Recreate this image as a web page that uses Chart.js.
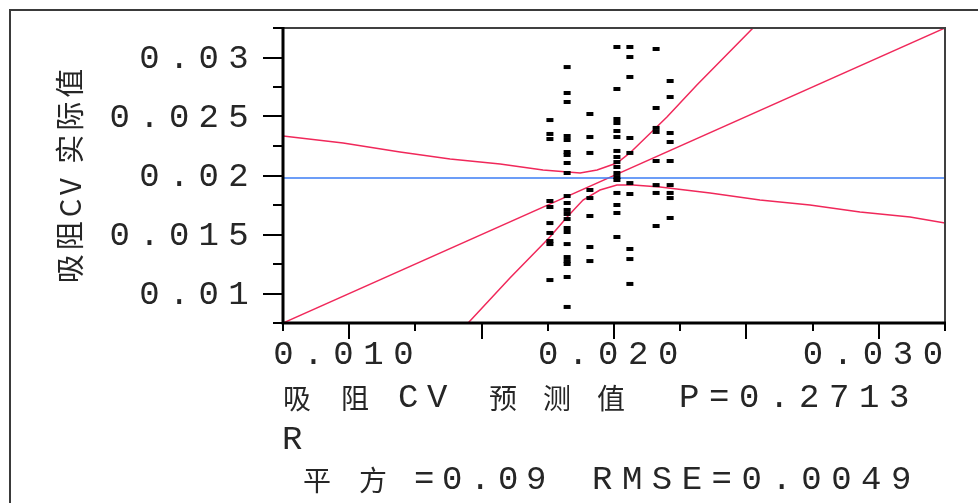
<!DOCTYPE html>
<html>
<head>
<meta charset="utf-8">
<script src="https://cdn.jsdelivr.net/npm/chart.js@4/dist/chart.umd.min.js"></script>
<style>
  html, body { margin: 0; padding: 0; background: #ffffff; }
  #wrap { width: 978px; height: 503px; position: relative; }
</style>
</head>
<body>
<div id="wrap"><canvas id="c" width="978" height="503"></canvas></div>
<script>
// ---- axis range and tick values (same range on both axes) ----
const axisMin = 0.0075;
const axisMax = 0.0325;
const majorTicks = [0.010, 0.015, 0.020, 0.025, 0.030];
const minorTicks = [0.0075, 0.0125, 0.0175, 0.0225, 0.0275, 0.0325];
const yTickValues = [0.01, 0.015, 0.02, 0.025, 0.03];
const yTickLabels = ['0.01', '0.015', '0.02', '0.025', '0.03'];
const xTickValues = [0.01, 0.02, 0.03];
const xTickLabels = ['0.010', '0.020', '0.030'];

// ---- predicted levels (x) and the actual values observed at each level (y) ----
const predictedLevels = [0.01758, 0.01823, 0.01909, 0.02011, 0.02060, 0.02159, 0.02212];
const actualAtLevel1 = [0.02470, 0.02352, 0.02309, 0.01784, 0.01733, 0.01597, 0.01513, 0.01445, 0.01419, 0.01114];
const actualAtLevel2 = [0.02919, 0.02699, 0.02623, 0.02335, 0.02301, 0.02199, 0.02174, 0.02106, 0.02021, 0.01826, 0.01767,
                        0.01708, 0.01674, 0.01631, 0.01555, 0.01521, 0.01419, 0.01309, 0.01275, 0.01250, 0.01140, 0.00886];
const actualAtLevel3 = [0.02521, 0.02326, 0.02191, 0.01877, 0.01809, 0.01657, 0.01394, 0.01275];
const actualAtLevel4 = [0.03089, 0.02733, 0.02479, 0.02445, 0.02377, 0.02326, 0.02208, 0.02157, 0.02114, 0.02072, 0.02021,
                        0.01987, 0.01962, 0.01852, 0.01750, 0.01682, 0.01479];
const actualAtLevel5 = [0.03089, 0.03004, 0.02835, 0.02318, 0.02191, 0.01936, 0.01843, 0.01377, 0.01292, 0.01081];
const actualAtLevel6 = [0.03072, 0.02572, 0.02403, 0.02369, 0.02123, 0.01919, 0.01852, 0.01572];
const actualAtLevel7 = [0.02801, 0.02665, 0.02360, 0.02284, 0.02123, 0.01919, 0.01852, 0.01809, 0.01640];

// ---- reference lines ----
const meanActual = 0.01979;
const fitX = [0.0075, 0.0325];
const fitY = [0.0075, 0.0325];

// ---- confidence curves ----
const upperX = [0.0075, 0.00977, 0.01192, 0.01381, 0.01570, 0.01732, 0.01872, 0.01936, 0.02011, 0.02060, 0.02200, 0.02313, 0.02525];
const upperY = [0.02335, 0.02275, 0.02199, 0.02140, 0.02098, 0.02047, 0.02021, 0.02047, 0.02106, 0.02191, 0.02496, 0.02767, 0.0325];
const lowerX = [0.01449, 0.01607, 0.01758, 0.01823, 0.01883, 0.01947, 0.02011, 0.02072, 0.02174, 0.02363, 0.02551, 0.02740,
                0.02929, 0.03118, 0.0325];
const lowerY = [0.0075, 0.01131, 0.01479, 0.01648, 0.01792, 0.01877, 0.01920, 0.01920, 0.01903, 0.01852, 0.01792, 0.01750,
                0.01691, 0.01648, 0.01598];

// ---- texts ----
const yTitle = '吸阻CV 实际值';
const statsName = ['吸阻CV', '预测值'];
const statsP = 'P=0.2713';
const statsR = 'R';
const statsRsq = '平方=0.09';
const statsRmse = 'RMSE=0.0049';

const actualGroups = [actualAtLevel1, actualAtLevel2, actualAtLevel3, actualAtLevel4, actualAtLevel5, actualAtLevel6, actualAtLevel7];
const pointData = [];
actualGroups.forEach((vals, i) => vals.forEach(v => pointData.push({ x: predictedLevels[i], y: v })));
const zip = (xs, ys) => xs.map((x, i) => ({ x, y: ys[i] }));

const RED = '#f0285a';
const TEXT = '#262626';
const LATIN_FONT = "34px 'Liberation Mono'";
const CJK_FONT = "28px 'Noto Sans CJK SC'";

const isWide = ch => /[\u2e80-\u9fff\uff00-\uffef]/.test(ch);

// Draws text on a fixed character grid: narrow glyphs take one cell, CJK glyphs two.
function drawCells(ctx, text, x, y, pitch, align) {
  const chars = Array.from(text);
  const total = chars.reduce((s, ch) => s + (isWide(ch) ? 2 : 1), 0) * pitch;
  let cx = align === 'right' ? x - total : align === 'center' ? x - total / 2 : x;
  ctx.textBaseline = 'middle';
  ctx.textAlign = 'left';
  for (const ch of chars) {
    const wide = isWide(ch);
    ctx.font = wide ? CJK_FONT : LATIN_FONT;
    if (ch !== ' ') ctx.fillText(ch, cx - (wide ? 0 : 1), y);
    cx += (wide ? 2 : 1) * pitch;
  }
}

const framePlugin = {
  id: 'jmpFrame',
  afterDraw(chart) {
    const { ctx, chartArea: a, scales } = chart;
    const xs = scales.x, ys = scales.y;
    ctx.save();

    // outer report frame
    ctx.strokeStyle = '#3a3a3a';
    ctx.lineWidth = 2;
    ctx.beginPath();
    ctx.moveTo(10, 503); ctx.lineTo(10, 10); ctx.lineTo(978, 10);
    ctx.stroke();

    // plot frame: top and right
    ctx.strokeStyle = '#404040';
    ctx.lineWidth = 2;
    ctx.beginPath();
    ctx.moveTo(a.left, a.top); ctx.lineTo(a.right, a.top); ctx.lineTo(a.right, a.bottom);
    ctx.stroke();

    // axis lines: left and bottom
    ctx.strokeStyle = '#000';
    ctx.lineWidth = 3;
    ctx.beginPath();
    ctx.moveTo(a.left, a.top - 1); ctx.lineTo(a.left, a.bottom); ctx.lineTo(a.right + 1, a.bottom);
    ctx.stroke();

    // tick marks
    ctx.lineWidth = 2;
    ctx.beginPath();
    majorTicks.forEach(v => {
      const py = Math.round(ys.getPixelForValue(v));
      ctx.moveTo(a.left - 20, py); ctx.lineTo(a.left, py);
      const px = Math.round(xs.getPixelForValue(v));
      ctx.moveTo(px, a.bottom); ctx.lineTo(px, a.bottom + 16);
    });
    minorTicks.forEach(v => {
      const py = Math.round(ys.getPixelForValue(v));
      ctx.moveTo(a.left - 10, py); ctx.lineTo(a.left, py);
      const px = Math.round(xs.getPixelForValue(v));
      ctx.moveTo(px, a.bottom); ctx.lineTo(px, a.bottom + 8);
    });
    ctx.stroke();

    ctx.fillStyle = TEXT;
    // y tick labels
    yTickValues.forEach((v, i) => drawCells(ctx, yTickLabels[i], a.left - 24, ys.getPixelForValue(v) + 1, 29.7, 'right'));
    // x tick labels
    xTickValues.forEach((v, i) => drawCells(ctx, xTickLabels[i], xs.getPixelForValue(v), a.bottom + 32, 30, 'center'));

    // y axis title
    ctx.save();
    ctx.translate(70, 174);
    ctx.rotate(-Math.PI / 2);
    ctx.font = "29px 'Noto Sans CJK SC'";
    ctx.letterSpacing = '4px';
    ctx.textAlign = 'center';
    ctx.textBaseline = 'middle';
    ctx.fillText(yTitle, 0, 0);
    ctx.restore();

    // statistics lines under the x axis
    drawCells(ctx, statsName[0], 283, 398, 29, 'left');
    drawCells(ctx, statsName[1], 489, 398, 27, 'left');
    drawCells(ctx, statsP, 680, 398, 30, 'left');
    drawCells(ctx, statsR, 283, 440, 30, 'left');
    drawCells(ctx, statsRsq, 303, 480, 28, 'left');
    drawCells(ctx, statsRmse, 593, 480, 29.9, 'left');

    ctx.restore();
  }
};

new Chart(document.getElementById('c'), {
  type: 'scatter',
  data: {
    datasets: [
      {
        label: 'actual',
        data: pointData,
        pointStyle: 'line',
        pointRadius: 3.5,
        pointBorderWidth: 4,
        borderColor: '#000',
        backgroundColor: '#000',
        showLine: false
      },
      {
        label: 'mean',
        data: [{ x: axisMin, y: meanActual }, { x: axisMax, y: meanActual }],
        showLine: true, pointRadius: 0, borderColor: '#3b7cf5', borderWidth: 1.5
      },
      {
        label: 'fit',
        data: zip(fitX, fitY),
        showLine: true, pointRadius: 0, borderColor: RED, borderWidth: 1.5
      },
      {
        label: 'upper',
        data: zip(upperX, upperY),
        showLine: true, pointRadius: 0, borderColor: RED, borderWidth: 1.5
      },
      {
        label: 'lower',
        data: zip(lowerX, lowerY),
        showLine: true, pointRadius: 0, borderColor: RED, borderWidth: 1.5
      }
    ]
  },
  options: {
    responsive: false,
    animation: false,
    devicePixelRatio: 1,
    layout: { padding: { left: 283, top: 28, right: 33, bottom: 180 } },
    plugins: { legend: { display: false }, tooltip: { enabled: false } },
    scales: {
      x: { type: 'linear', min: axisMin, max: axisMax, display: false },
      y: { type: 'linear', min: axisMin, max: axisMax, display: false }
    }
  },
  plugins: [framePlugin]
});
</script>
</body>
</html>
